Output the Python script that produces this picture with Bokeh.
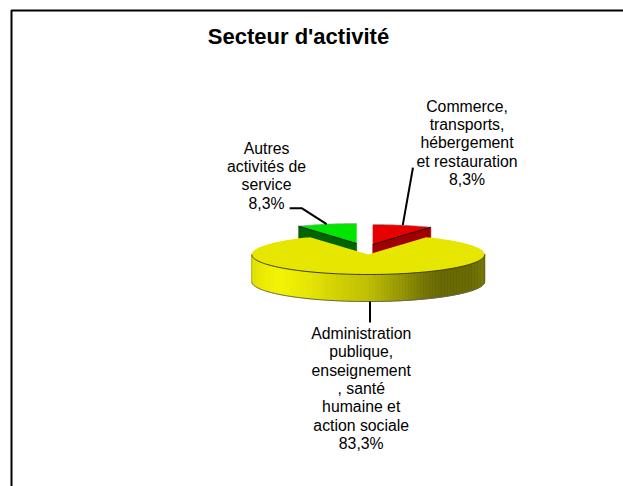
import numpy as np
from bokeh.plotting import figure
from bokeh.embed import file_html
from bokeh.resources import INLINE
from bokeh.core.properties import value

# ---- data
title = "Secteur d'activité"
categories = ["Commerce, transports, hébergement et restauration",
              "Administration publique, enseignement, santé humaine et action sociale",
              "Autres activités de service"]
shares = [8.3, 83.3, 8.3]
share_labels = ["8,3%", "83,3%", "8,3%"]
label_lines = [["Commerce,", "transports,", "hébergement", "et restauration"],
               ["Administration", "publique,", "enseignement", ", santé", "humaine et", "action sociale"],
               ["Autres", "activités de", "service"]]

# ---- style / layout
W, H = 623, 486
FONT = "Liberation Sans"
CX, CY, RX, RY, DEPTH = 367.7, 254.0, 116.5, 20.0, 27.0
explode = [(4.5, -10.0), (0.0, 0.0), (-11.5, -11.0)]
top_colors = ["#e60000", "#e6e600", "#00e600"]
side_colors = ["#a00000", None, "#006400"]
label_pos = [(466.5, 105.5), (360.7, 333.0), (266.0, 147.5)]
PITCH = 18.35
stops_x = [251, 262, 280, 310, 335, 368, 400, 425, 442, 470, 484]
stops_c = [(222,222,0), (235,235,0), (243,243,0), (228,228,0), (210,210,0),
           (190,190,0), (150,150,0), (115,115,0), (102,102,0), (104,104,0), (116,116,0)]

p = figure(width=W, height=H, x_range=(0, W), y_range=(H, 0), toolbar_location=None,
           output_backend="svg", min_border=0, outline_line_color=None)
p.axis.visible = False
p.grid.visible = False
p.background_fill_color = "white"

# frame
p.line([11, 11, W], [H, 10, 10], line_color="black", line_width=2)

# angles clockwise from 12 o'clock, from the values
total = sum(shares)
edges = np.concatenate([[0], np.cumsum(shares)]) / total * 2 * np.pi

def rim(a, dx=0.0, dy=0.0):
    return CX + dx + RX * np.sin(a), CY + dy - RY * np.cos(a)

# exploded small slices (drawn first: the big slice hides their sides)
for i in (0, 2):
    a0, a1 = edges[i], edges[i + 1]
    dx, dy = explode[i]
    tx, ty = CX + dx, CY + dy
    outer = a1 if i == 0 else a0
    ox, oy = rim(outer, dx, dy)
    p.patch([tx, ox, ox, tx], [ty, oy, oy + DEPTH, ty + DEPTH],
            fill_color=side_colors[i], line_color=side_colors[i], line_width=0.5)
    a = np.linspace(a0, a1, 24)
    x, y = rim(a, dx, dy)
    p.patch(np.r_[tx, x], np.r_[ty, y], fill_color=top_colors[i], line_color=None)
    p.line(x, y, line_color="#999999", line_width=0.6)
    p.line([tx, ox], [ty, oy], line_color="black", line_width=0.8)

# big slice: side strips with shading
sx = np.arange(CX - RX, CX + RX, 1.5)
xs, ys, cs = [], [], []
for x0 in sx:
    x1 = min(x0 + 1.5, CX + RX)
    y0 = CY + RY * np.sqrt(max(0, 1 - ((x0 - CX) / RX) ** 2))
    y1 = CY + RY * np.sqrt(max(0, 1 - ((x1 - CX) / RX) ** 2))
    xs.append([x0, x1, x1, x0])
    ys.append([y0, y1, y1 + DEPTH, y0 + DEPTH])
    mid = (x0 + x1) / 2
    c = [int(np.interp(mid, stops_x, [s[k] for s in stops_c])) for k in range(3)]
    cs.append("#%02x%02x%02x" % tuple(c))
p.patches(xs, ys, fill_color=cs, line_color=cs, line_width=0.8)

a = np.linspace(edges[1], edges[2], 240)
x, y = rim(a)
p.patch(np.r_[CX, x], np.r_[CY, y], fill_color=top_colors[1], line_color=None)

front = np.linspace(np.pi / 2, 3 * np.pi / 2, 160)
fx, fy = rim(front)
p.line(fx, fy, line_color="#3a3a10", line_width=1)
p.line(fx, fy + DEPTH, line_color="#666655", line_width=1)
p.line([CX + RX, CX + RX], [CY, CY + DEPTH], line_color="#55550a", line_width=0.6)
p.line([CX - RX, CX - RX], [CY, CY + DEPTH], line_color="#99991a", line_width=0.6)

# leader lines, from each slice's rim midpoint
mids = (edges[:-1] + edges[1:]) / 2
lx, ly = rim(mids[0], *explode[0])
p.line([lx, lx + 10.2], [ly, ly - 57.5], line_color="black", line_width=2)
lx, ly = rim(mids[1], *explode[1])
p.line([lx + 1.8, lx + 1.8], [ly + DEPTH, ly + DEPTH + 21], line_color="black", line_width=2)
lx, ly = rim(mids[2], *explode[2])
p.line([lx, lx - 25, lx - 37], [ly, ly - 16, ly - 16], line_color="black", line_width=2)

# labels
for (lines, pct, (lx, ly)) in zip(label_lines, share_labels, label_pos):
    rows = lines + [pct]
    p.text([lx] * len(rows), [ly + PITCH * k for k in range(len(rows))], text=rows,
           text_font=value(FONT), text_font_size="15.8px", text_color="black",
           text_align="center", text_baseline="middle")

p.text([298], [36], text=[title], text_font=value(FONT), text_font_style="bold",
       text_font_size="22px", text_color="black", text_align="center", text_baseline="middle")

open("out.html", "w").write(file_html(p, INLINE))
